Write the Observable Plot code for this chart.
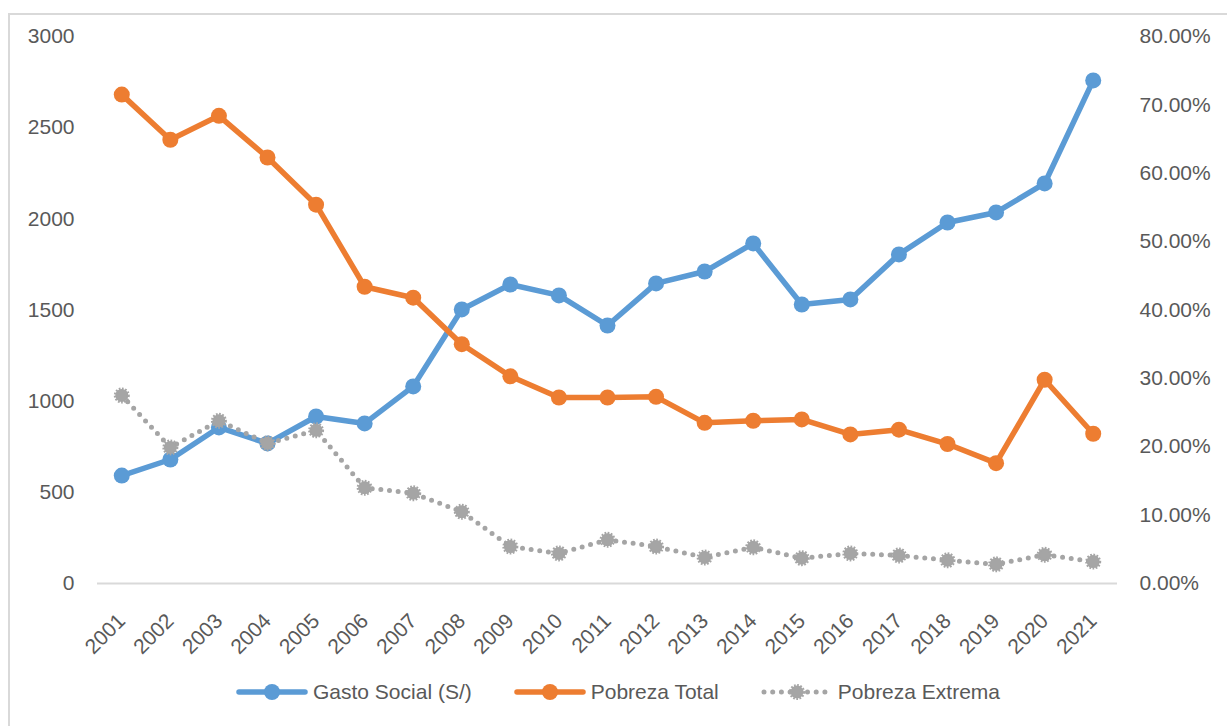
<!DOCTYPE html>
<html>
<head>
<meta charset="utf-8">
<script src="https://cdn.jsdelivr.net/npm/d3@7"></script>
<script src="https://cdn.jsdelivr.net/npm/@observablehq/plot@0.6"></script>
<style>
  body { margin: 0; background: #fff; font-family: "Liberation Sans", Arial, sans-serif; }
  #wrap { position: relative; width: 1227px; height: 726px; overflow: hidden; background: #fff; }
  #frame { position: absolute; left: 8px; top: 13px; width: 1260px; height: 760px; border: 2px solid #D9D9D9; box-sizing: border-box; }
  #chart { position: absolute; left: 0; top: 0; }
  #legend { position: absolute; left: 236px; top: 680px; display: flex; align-items: center; gap: 42px; font-size: 21px; color: #595959; }
  .item { display: flex; align-items: center; gap: 5px; white-space: nowrap; }
  .item svg { display: block; }
</style>
</head>
<body>
<div id="wrap">
  <div id="frame"></div>
  <div id="chart"></div>
  <div id="legend"></div>
</div>
<script>
// ---- data ----
const years = [2001, 2002, 2003, 2004, 2005, 2006, 2007, 2008, 2009, 2010, 2011,
               2012, 2013, 2014, 2015, 2016, 2017, 2018, 2019, 2020, 2021];
const gastoSocial = [592, 680, 856, 768, 916, 878, 1081, 1503, 1640, 1580, 1415,
                     1646, 1711, 1865, 1530, 1558, 1805, 1980, 2035, 2194, 2759];
const pobrezaTotal = [71.5, 64.9, 68.4, 62.3, 55.4, 43.4, 41.8, 35.0, 30.3, 27.2, 27.2,
                      27.3, 23.5, 23.8, 24.0, 21.8, 22.5, 20.4, 17.6, 29.8, 21.9];
const pobrezaExtrema = [27.5, 19.9, 23.8, 20.5, 22.4, 14.0, 13.2, 10.5, 5.4, 4.4, 6.4,
                        5.4, 3.8, 5.3, 3.7, 4.4, 4.1, 3.4, 2.8, 4.2, 3.2];
const leftTicks = [0, 500, 1000, 1500, 2000, 2500, 3000];
const rightTicks = [0, 10, 20, 30, 40, 50, 60, 70, 80]; // percent
const seriesNames = ["Gasto Social (S/)", "Pobreza Total", "Pobreza Extrema"];

// ---- secondary axis mapping (0–80% onto 0–3000) ----
const leftMax = 3000, rightMax = 80;
const toLeft = p => p * leftMax / rightMax;

const blue = "#5B9BD5", orange = "#ED7D31", gray = "#A5A5A5";

const rows = years.map((yr, i) => ({
  year: yr,
  gasto: gastoSocial[i],
  total: toLeft(pobrezaTotal[i]),
  extrema: toLeft(pobrezaExtrema[i])
}));

const chart = Plot.plot({
  width: 1227,
  height: 660,
  marginTop: 36,
  marginBottom: 77,
  marginLeft: 97,
  marginRight: 110,
  style: { fontFamily: "'Liberation Sans', Arial, sans-serif", fontSize: "21px", color: "#595959", background: "transparent", overflow: "visible" },
  x: { type: "point", domain: years, padding: 0.5, round: false },
  y: { domain: [0, leftMax] },
  marks: [
    Plot.ruleY([0], { stroke: "#D9D9D9", strokeWidth: 2 }),
    Plot.axisY(leftTicks, { anchor: "left", tickSize: 0, tickPadding: 23, label: null, fontSize: 21, tickFormat: d => String(d) }),
    Plot.axisY(rightTicks.map(toLeft), { anchor: "right", tickSize: 0, tickPadding: 22, label: null, fontSize: 21,
      tickFormat: d => (d * rightMax / leftMax).toFixed(2) + "%" }),
    Plot.axisX({ tickRotate: -45, tickSize: 0, tickPadding: 34, label: null, fontSize: 21, tickFormat: d => String(d) }),
    // Gasto Social
    Plot.line(rows, { x: "year", y: "gasto", stroke: blue, strokeWidth: 5.5, strokeLinejoin: "round" }),
    Plot.dot(rows, { x: "year", y: "gasto", r: 8, fill: blue }),
    // Pobreza Total
    Plot.line(rows, { x: "year", y: "total", stroke: orange, strokeWidth: 5.5, strokeLinejoin: "round" }),
    Plot.dot(rows, { x: "year", y: "total", r: 8, fill: orange }),
    // Pobreza Extrema
    Plot.line(rows, { x: "year", y: "extrema", stroke: gray, strokeWidth: 5, strokeLinecap: "round", strokeDasharray: "0 8.7" }),
    Plot.dot(rows, { x: "year", y: "extrema", r: 6.5, fill: gray, stroke: gray, strokeWidth: 3, strokeDasharray: "1.6 1.4" })
  ]
});
document.getElementById("chart").appendChild(chart);

// ---- legend ----
const legendStyles = [
  { color: blue, dotted: false },
  { color: orange, dotted: false },
  { color: gray, dotted: true }
];
const legend = document.getElementById("legend");
seriesNames.forEach((name, i) => {
  const s = legendStyles[i];
  const item = document.createElement("div");
  item.className = "item";
  const w = 72, h = 20;
  let svg;
  if (!s.dotted) {
    svg = `<svg width="${w}" height="${h}"><line x1="3" x2="${w - 3}" y1="${h / 2}" y2="${h / 2}" stroke="${s.color}" stroke-width="5.5" stroke-linecap="round"/><circle cx="${w / 2}" cy="${h / 2}" r="8" fill="${s.color}"/></svg>`;
  } else {
    svg = `<svg width="${w}" height="${h}"><line x1="3" x2="${w - 3}" y1="${h / 2}" y2="${h / 2}" stroke="${s.color}" stroke-width="5" stroke-linecap="round" stroke-dasharray="0 8.7"/><circle cx="${w / 2}" cy="${h / 2}" r="6.5" fill="${s.color}" stroke="${s.color}" stroke-width="3" stroke-dasharray="1.6 1.4"/></svg>`;
  }
  item.innerHTML = svg + `<span>${name}</span>`;
  legend.appendChild(item);
});
</script>
</body>
</html>
